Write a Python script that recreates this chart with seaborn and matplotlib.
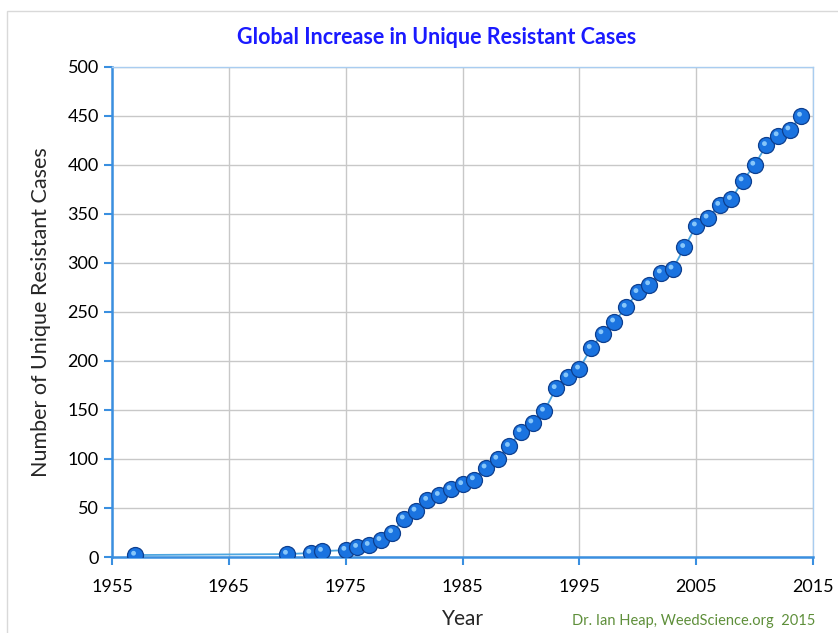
import matplotlib
matplotlib.use("Agg")
import matplotlib.pyplot as plt
import matplotlib.patches as mpatches
import matplotlib.transforms as mtransforms
import seaborn as sns
import pandas as pd

# Data
years = [1957, 1970, 1972, 1973, 1975, 1976, 1977, 1978, 1979, 1980,
         1981, 1982, 1983, 1984, 1985, 1986, 1987, 1988, 1989, 1990,
         1991, 1992, 1993, 1994, 1995, 1996, 1997, 1998, 1999, 2000,
         2001, 2002, 2003, 2004, 2005, 2006, 2007, 2008, 2009, 2010,
         2011, 2012, 2013, 2014]
cases = [2, 3, 4, 6, 7, 10, 12, 17, 25, 39,
         47, 58, 63, 69, 74, 79, 91, 100, 113, 128,
         137, 149, 172, 184, 192, 213, 228, 240, 255, 270,
         278, 290, 294, 316, 338, 346, 359, 365, 384, 400,
         420, 430, 436, 450]
x_ticks = [1955, 1965, 1975, 1985, 1995, 2005, 2015]
y_ticks = [0, 50, 100, 150, 200, 250, 300, 350, 400, 450, 500]

df = pd.DataFrame({"Year": years, "Cases": cases})

sns.set_style("white")
plt.rcParams["font.family"] = ["Lato", "DejaVu Sans"]

fig = plt.figure(figsize=(8.38, 6.33), dpi=100)
ax = fig.add_axes([112 / 838, 1 - 557 / 633, (813 - 112) / 838, (557 - 67) / 633])

# light outer frame
fig.patches.append(mpatches.Rectangle((7 / 838, -0.01), 1.0, 1 - 11 / 633 + 0.01,
                                      transform=fig.transFigure, fill=False,
                                      edgecolor="#d9d9d9", linewidth=1.0))

sns.lineplot(data=df, x="Year", y="Cases", ax=ax, color="#4da6e0", linewidth=1.3,
             marker="o", markersize=11.5, markerfacecolor="#1a73e0",
             markeredgecolor="#0d3f8f", markeredgewidth=0.9, zorder=3)
# small highlight to give the spheres some shine (nudged up-left)
sns.scatterplot(data=df, x="Year", y="Cases", ax=ax, s=12, color="#9ad6ff",
                edgecolor="none", zorder=4, alpha=0.85)
shift = mtransforms.ScaledTranslation(-1.8 / 100, 1.8 / 100, fig.dpi_scale_trans)
ax.collections[-1].set_offset_transform(ax.transData + shift)

ax.set_xlim(1955, 2015)
ax.set_ylim(0, 500)
ax.set_xticks(x_ticks)
ax.set_yticks(y_ticks)
ax.grid(True, color="#c8c8c8", linewidth=1.0)
ax.set_axisbelow(True)

for side in ["top", "right"]:
    ax.spines[side].set_color("#a9cdf0")
    ax.spines[side].set_linewidth(1.0)
for side in ["left", "bottom"]:
    ax.spines[side].set_color("#3a8fe0")
    ax.spines[side].set_linewidth(1.8)

ax.tick_params(axis="both", labelsize=13, colors="#3a8fe0", labelcolor="black",
               length=6, width=1.5, direction="out", bottom=True, left=True)
ax.tick_params(axis="x", pad=10)

ax.set_xlabel("Year", fontsize=15, labelpad=10)
ax.set_ylabel("Number of Unique Resistant Cases", fontsize=15.5, labelpad=12)

fig.text(437 / 838, 1 - 38 / 633, "Global Increase in Unique Resistant Cases",
         ha="center", va="center", fontsize=15.5, fontweight="bold", color="#1a1aff")
fig.text(815 / 838, 1 - 621 / 633, "Dr. Ian Heap, WeedScience.org  2015",
         ha="right", va="center", fontsize=10.5, color="#5e8f3a")

fig.savefig("out.png", dpi=100)
